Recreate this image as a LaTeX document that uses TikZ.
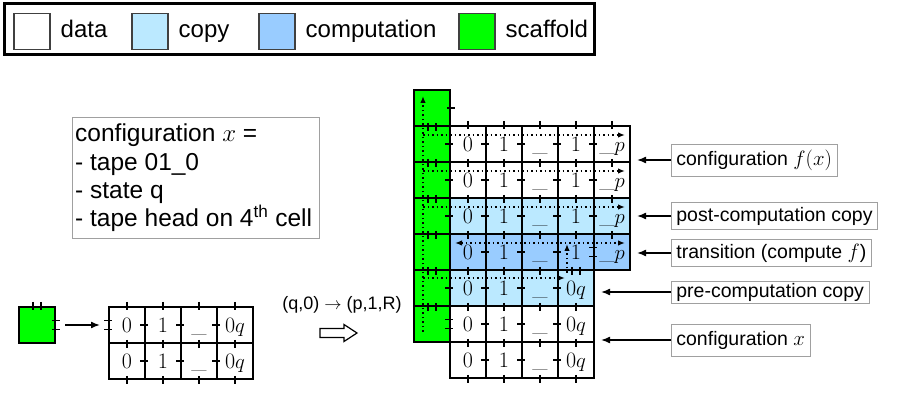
\documentclass[tikz,border=0pt]{standalone}
\usepackage{fontspec}
\newfontfamily\lblfont{Liberation Sans}
\usetikzlibrary{arrows.meta,calc,positioning}
\definecolor{tcopy}{HTML}{BBE9FF}
\definecolor{tcomp}{HTML}{99CCFF}
\definecolor{tscaf}{HTML}{00FF00}
\definecolor{tframe}{HTML}{A0A0A0}
\tikzset{
  >={Latex[length=7pt,width=5.5pt]},
  tcell/.style={draw=black, line width=2pt, minimum width=36pt, minimum height=36pt,
                inner sep=0pt, anchor=north west, fill=white,
                font=\fontsize{22}{22}\selectfont, text height=17pt, text depth=1pt},
  ttick/.style={line width=1.8pt},
  tdot/.style={->, line width=1.5pt, dash pattern=on 1.5pt off 3pt},
  tarr/.style={-{Latex[length=9pt,width=7pt]}, line width=1.5pt},
  tlbl/.style={draw=tframe, line width=0.8pt, fill=white, anchor=west,
               inner xsep=5pt, inner ysep=1pt, font=\lblfont\fontsize{19.5}{21}\selectfont},
  tkey/.style={draw=black!75, line width=1.5pt, minimum size=36pt, inner sep=0pt,
               anchor=north west},
  tkeytxt/.style={font=\lblfont\fontsize{24}{26}\selectfont, inner sep=0pt,
                  text height=17pt, text depth=5pt},
  pics/vtick/.style={code={\draw[ttick] (0,-4) -- (0,4);}},
  pics/vdbl/.style={code={\draw[ttick] (-4,-4) -- (-4,4) (4,-4) -- (4,4);}},
  pics/htick/.style={code={\draw[ttick] (-4,0) -- (4,0);}},
  pics/hdbl/.style={code={\draw[ttick] (-4,-4.5) -- (4,-4.5) (-4,4.5) -- (4,4.5);}},
}
\begin{document}
\begin{tikzpicture}[x=1pt,y=-1pt]
  \useasboundingbox (0,0) rectangle (900,395);

  % legend
  \draw[line width=3pt] (4,4) rectangle (594,55);
  \node[tkey, fill=white] (kdata) at (13,13) {};
  \node[tkeytxt, right=10pt of kdata] (tdata) {data};
  \node[tkey, fill=tcopy] (kcopy) at (131,13) {};
  \node[tkeytxt, right=10pt of kcopy] (tcopyt) {copy};
  \node[tkey, fill=tcomp] (kcomp) at (258,13) {};
  \node[tkeytxt, right=10pt of kcomp] (tcompt) {computation};
  \node[tkey, fill=tscaf] (kscaf) at (458,13) {};
  \node[tkeytxt, right=10pt of kscaf] (tscaft) {scaffold};

  % configuration x
  \node[draw=tframe, line width=0.8pt, minimum width=247pt, minimum height=121pt,
        anchor=north west, inner sep=0pt] (cfgbox) at (72,117) {};
  \node[anchor=north west, align=left, inner xsep=3pt, inner ysep=7pt,
        font=\lblfont\fontsize{24.5}{28.2}\selectfont] (cfg) at (cfgbox.north west)
       {configuration $x$ =\\- tape 01\_0\\- state q\\- tape head on 4\textsuperscript{th} cell};

  % seed
  \node[tcell, fill=tscaf] (seed) at (18,306) {};
  \foreach \t [count=\i] in {0,1,\_,0$q$}{
    \node[tcell] (l1-\i) at ({108+36*(\i-1)},306) {\t};
    \node[tcell] (l2-\i) at ({108+36*(\i-1)},342) {\t};
  }
  \pic at (seed.north) {vdbl};
  \pic at (seed.east) {hdbl};
  \pic at (l1-1.west) {hdbl};
  \foreach \i in {1,...,4}{
    \pic at (l1-\i.north) {vtick};
    \pic at (l1-\i.south) {vtick};
    \pic at (l2-\i.south) {vtick};
  }
  \foreach \i in {2,3,4}{
    \pic at (l1-\i.west) {htick};
    \pic at (l2-\i.west) {htick};
  }
  \draw[tarr] ([xshift=9pt]seed.east) -- ([xshift=-8pt]l1-1.west);

  % transition rule
  \node[font=\lblfont\fontsize{18}{20}\selectfont] (rule) at (342,305) {(q,0) $\rightarrow$ (p,1,R)};
  \draw[line width=1.2pt] (320,328.5) -- (344,328.5) -- (344,324.5) -- (357,333)
    -- (344,341.5) -- (344,337.5) -- (320,337.5) -- cycle;

  % scaffold column
  \foreach \k in {0,...,6}
    \node[tcell, fill=tscaf] (g\k) at (413,{89+36*\k}) {};

  % tiles
  \foreach \r/\y/\c in {1/125/white, 2/161/white, 3/197/tcopy, 4/233/tcomp}
    \foreach \t [count=\i] in {0,1,\_,1,\_$p$}
      \node[tcell, fill=\c] (r\r-\i) at ({449+36*(\i-1)},\y) {\t};
  \foreach \r/\y/\c in {5/269/tcopy, 6/305/white, 7/341/white}
    \foreach \t [count=\i] in {0,1,\_,0$q$}
      \node[tcell, fill=\c] (r\r-\i) at ({449+36*(\i-1)},\y) {\t};

  % glue marks
  \pic at (g0.east) {htick};
  \foreach \k in {0,...,5}
    \pic at (g\k.south) {vdbl};
  \foreach \i in {1,...,5}
    \pic at (r1-\i.north) {vtick};
  \foreach \r/\m in {1/5,2/5,3/5,4/3,5/4,6/4,7/4}
    \foreach \i in {1,...,\m}
      \pic at (r\r-\i.south) {vtick};
  \pic at (r4-4.south) {vdbl};
  \foreach \r/\a/\m in {1/1/5,2/1/5,3/1/5,4/2/4,5/1/4,6/2/4,7/2/4}
    \foreach \i in {\a,...,\m}
      \pic at (r\r-\i.west) {htick};
  \pic at (r4-5.west) {hdbl};
  \pic at (r6-1.west) {hdbl};

  % head path
  \draw[tdot] (423,332) -- (423,96);
  \foreach \y in {135,171,207}
    \draw[tdot] (423,\y) -- (625,\y);
  \draw[tdot] (423,278) -- (565,278);
  \draw[tdot] (567,273) -- (567,244);
  \draw[tdot, <->] (455,243) -- (625,243);

  % labels
  \node[tlbl, minimum height=32pt] (lfx) at (671,160) {configuration $f(x)$};
  \node[tlbl, minimum height=27pt] (lpost) at (671,216) {post-computation copy};
  \node[tlbl, minimum height=27pt] (ltrans) at (671,253) {transition (compute $f$)};
  \node[tlbl, minimum height=22pt] (lpre) at (671,292) {pre-computation copy};
  \node[tlbl, minimum height=32pt] (lx) at (671,340) {configuration $x$};
  \draw[tarr] (lfx.west) -- ([xshift=6pt]lfx.west -| r1-5.east);
  \draw[tarr] (lpost.west) -- ([xshift=6pt]lpost.west -| r3-5.east);
  \draw[tarr] (ltrans.west) -- ([xshift=6pt]ltrans.west -| r4-5.east);
  \draw[tarr] (lpre.west) -- ([xshift=6pt]lpre.west -| r5-4.east);
  \draw[tarr] (lx.west) -- ([xshift=6pt]lx.west -| r6-4.east);

\end{tikzpicture}
\end{document}
